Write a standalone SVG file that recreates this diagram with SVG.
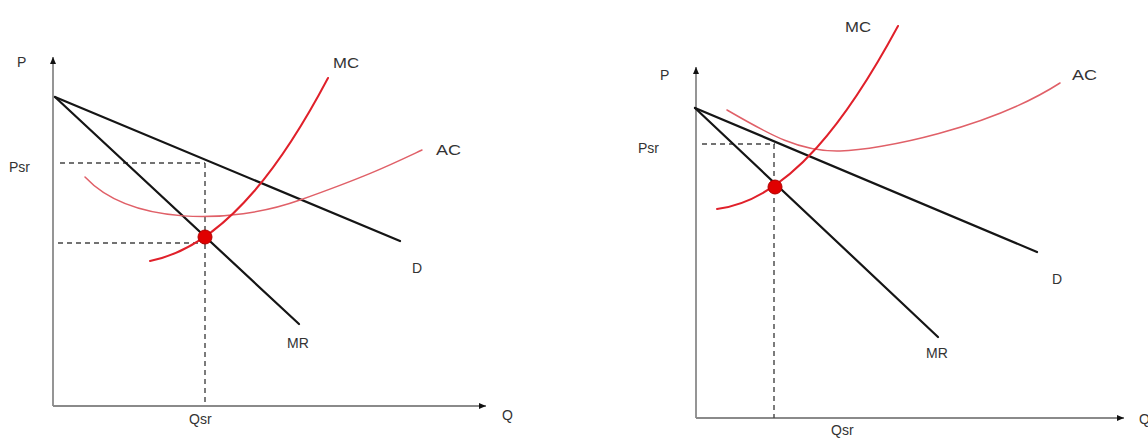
<svg xmlns="http://www.w3.org/2000/svg" width="1148" height="438" viewBox="0 0 1148 438">
<style>
.axis{stroke:#8a8a8a;stroke-width:1.8;fill:none}
.blk{stroke:#151515;stroke-width:2.2;fill:none;stroke-linecap:round}
.dash{stroke:#444;stroke-width:1.4;fill:none;stroke-dasharray:5,4}
.mc{stroke:#e0202a;stroke-width:2;fill:none;stroke-linecap:round}
.ac{stroke:#e06068;stroke-width:1.5;fill:none;stroke-linecap:round}
.dot{fill:#e00000;stroke:#b00000;stroke-width:1}
text{font-family:"Liberation Sans",Arial,sans-serif;font-size:14px;fill:#333}
</style>
<defs>
<marker id="arr" markerUnits="userSpaceOnUse" markerWidth="8" markerHeight="8" refX="7" refY="4" orient="auto">
<path d="M0,1 L7,4 L0,7 Z" fill="#111"/>
</marker>
</defs>
<rect width="1148" height="438" fill="#ffffff"/>
<g id="left-graph">
<g id="left-axes">
<line class="axis" x1="53" y1="406" x2="53" y2="57" marker-end="url(#arr)"/>
<line class="axis" x1="53" y1="406" x2="486" y2="406" marker-end="url(#arr)"/>
</g>
<g id="left-connectors">
<line class="dash" x1="60" y1="163" x2="205" y2="163"/>
<line class="dash" x1="58" y1="243" x2="205" y2="243"/>
<line class="dash" x1="205" y1="163" x2="205" y2="406"/>
<line id="left-D" class="blk" x1="55" y1="97" x2="400" y2="241"/>
<line id="left-MR" class="blk" x1="55" y1="97" x2="299" y2="324"/>
<path id="left-AC" class="ac" d="M85,177 C130,225 230,225 300,200 S390,165 422,150"/>
<path id="left-MC" class="mc" d="M150,261 C230,245 290,150 328,78"/>
</g>
<circle id="left-eq" class="dot" cx="205" cy="237" r="7"/>
<g id="left-labels">
<text x="17" y="67">P</text>
<text x="9" y="172">Psr</text>
<text x="333" y="68" textLength="26" lengthAdjust="spacingAndGlyphs">MC</text>
<text x="436" y="155" textLength="25" lengthAdjust="spacingAndGlyphs">AC</text>
<text x="412" y="273">D</text>
<text x="287" y="348">MR</text>
<text x="189" y="424">Qsr</text>
<text x="502" y="420">Q</text>
</g>
</g>
<g id="right-graph">
<g id="right-axes">
<line class="axis" x1="696" y1="418" x2="696" y2="67" marker-end="url(#arr)"/>
<line class="axis" x1="696" y1="418" x2="1124" y2="418" marker-end="url(#arr)"/>
</g>
<g id="right-connectors">
<line class="dash" x1="702" y1="144" x2="775" y2="144"/>
<line class="dash" x1="774" y1="144" x2="774" y2="418"/>
<line id="right-D" class="blk" x1="695" y1="108" x2="1037" y2="252"/>
<line id="right-MR" class="blk" x1="695" y1="108" x2="938" y2="337"/>
<path id="right-AC" class="ac" d="M727,110 C770,135 800,152 840,151 S990,128 1060,83"/>
<path id="right-MC" class="mc" d="M717,209 C790,200 850,115 898,26"/>
</g>
<circle id="right-eq" class="dot" cx="775" cy="187" r="7"/>
<g id="right-labels">
<text x="660" y="80">P</text>
<text x="638" y="153">Psr</text>
<text x="845" y="32" textLength="26" lengthAdjust="spacingAndGlyphs">MC</text>
<text x="1072" y="80" textLength="25" lengthAdjust="spacingAndGlyphs">AC</text>
<text x="1052" y="284">D</text>
<text x="926" y="358">MR</text>
<text x="831" y="435">Qsr</text>
<text x="1139" y="424">Q</text>
</g>
</g>
</svg>
